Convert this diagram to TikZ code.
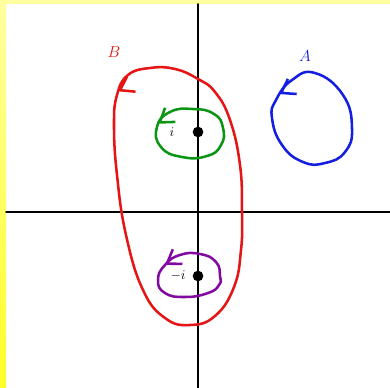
\documentclass[tikz,border=0pt]{standalone}
\usepackage{amsmath,amssymb}
\usepackage{xcolor}
\usepackage{tikz}
\usetikzlibrary{arrows.meta,decorations.markings}
\definecolor{loopred}{RGB}{230,20,20}
\definecolor{loopblue}{RGB}{20,30,225}
\definecolor{loopgreen}{RGB}{10,150,20}
\definecolor{looppurple}{RGB}{130,10,160}
\definecolor{edgeyellow}{RGB}{255,255,40}
\definecolor{paleyellow}{RGB}{255,255,160}

\begin{document}
\begin{tikzpicture}[x=0.75pt, y=-0.75pt, line join=round, line cap=round,
    axis/.style={line width=1.4pt, black},
    contour/.style={line width=1.9pt, postaction={decorate}},
    tip/.style 2 args={decoration={markings, mark=at position #1 with {\pgftransformrotate{#2}\arrow{Straight Barb[length=3.4mm,width=4.6mm]}}}},
    pole/.style={circle, fill=black, inner sep=0pt, minimum size=8pt}]
    \useasboundingbox (0,0) rectangle (390,388);

    % page edge
    \fill[paleyellow] (0,0) rectangle (390,4);
    \shade[top color=paleyellow, bottom color=edgeyellow] (0,0) rectangle (6,388);

    % axes
    \coordinate (W) at (6,212);
    \coordinate (E) at (390,212);
    \coordinate (N) at (198,4);
    \coordinate (S) at (198,388);
    \draw[axis] (W) -- (E);
    \draw[axis] (N) -- (S);

    % poles
    \node[pole] (pi) at (198,132) {};
    \node[pole] (mi) at (198,276) {};
    \node (li) at (172,132) {$i$};
    \node (lmi) at (178,276) {$-i$};

    % contours
    \draw[contour, tip={0.30}{-45}, loopred] plot[smooth cycle, tension=0.75] coordinates {
        (242,212) (240,165) (230,120) (215,92) (198,79) (175,69) (150,68) (128,75)
        (117,95) (114,125) (117,175) (126,235) (143,290) (165,318) (190,325)
        (215,316) (234,287) (241,250)};
    \draw[contour, tip={0.30}{-30}, loopblue] plot[smooth cycle, tension=0.8] coordinates {
        (352,128) (343,95) (315,73) (292,80) (276,100) (272,118) (282,145)
        (303,162) (325,163) (345,152)};
    \draw[contour, tip={0.33}{-35}, loopgreen] plot[smooth cycle, tension=0.85] coordinates {
        (223,128) (214,114) (193,109) (170,112) (157,127) (161,147) (182,157)
        (207,156) (221,145)};
    \draw[contour, tip={0.33}{-15}, looppurple] plot[smooth cycle, tension=0.85] coordinates {
        (220,276) (216,262) (200,254) (180,255) (165,265) (158,280) (165,293)
        (185,297) (208,293) (219,285)};

    % names
    \node[loopred, font=\large] (nB) at (114,52) {$B$};
    \node[loopblue, font=\large] (nA) at (305,56) {$A$};
\end{tikzpicture}
\end{document}
